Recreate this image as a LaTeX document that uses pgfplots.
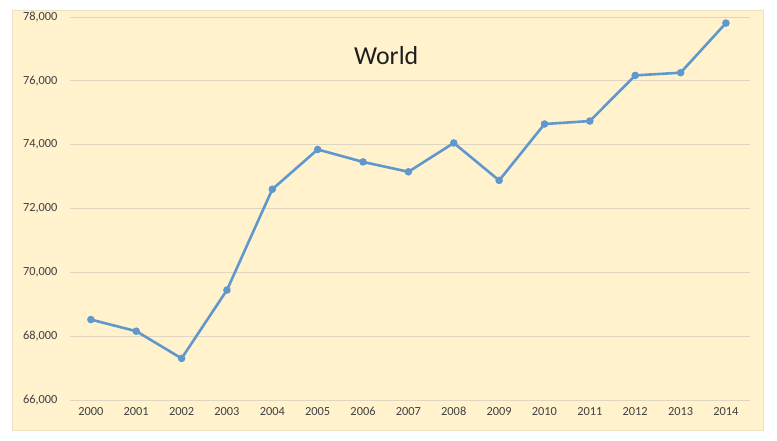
\documentclass[border=0pt]{standalone}
\usepackage{pgfplots}
\pgfplotsset{compat=1.18}
\usepackage{fontspec}
\setmainfont{Carlito}
\definecolor{bgyellow}{RGB}{255,242,204}
\definecolor{edgecol}{RGB}{235,225,195}
\definecolor{gridcol}{RGB}{222,214,190}
\definecolor{linecol}{RGB}{96,152,206}
\definecolor{ticktext}{RGB}{64,64,64}
\begin{document}
\begin{tikzpicture}
\fill[white] (-70bp,-41bp) rectangle (707bp,400bp);
\filldraw[fill=bgyellow, draw=edgecol, line width=0.8bp] (-58bp,-30bp) rectangle (693bp,390bp);
\begin{axis}[
  scale only axis,
  width=680bp, height=383bp,
  xmin=1999.54, xmax=2014.53,
  ymin=66000, ymax=78000,
  xtick={2000,...,2014},
  ytick={66000,68000,...,78000},
  scaled y ticks=false,
  axis line style={draw=none},
  major tick length=0pt,
  ymajorgrids,
  grid style={gridcol, line width=0.7bp},
  tick label style={font=\fontsize{12.4}{14}\selectfont, text=ticktext},
  xticklabel style={yshift=-4bp, /pgf/number format/1000 sep=},
  yticklabel style={xshift=-9bp, /pgf/number format/fixed, /pgf/number format/1000 sep={,}},
  /pgf/number format/assume math mode=true,
  clip=false,
]
\addplot[color=linecol, line width=2.6bp, mark=*, mark size=2.4bp, mark options={fill=linecol, draw=linecol}]
coordinates {
(2000,68520) (2001,68156) (2002,67303) (2003,69445) (2004,72603)
(2005,73850) (2006,73459) (2007,73150) (2008,74053) (2009,72880)
(2010,74647) (2011,74740) (2012,76170) (2013,76255) (2014,77810)
};
\node[font=\fontsize{26}{30}\selectfont, text=black!88] at (axis description cs:0.465,0.90) {World};
\end{axis}
\end{tikzpicture}
\end{document}
